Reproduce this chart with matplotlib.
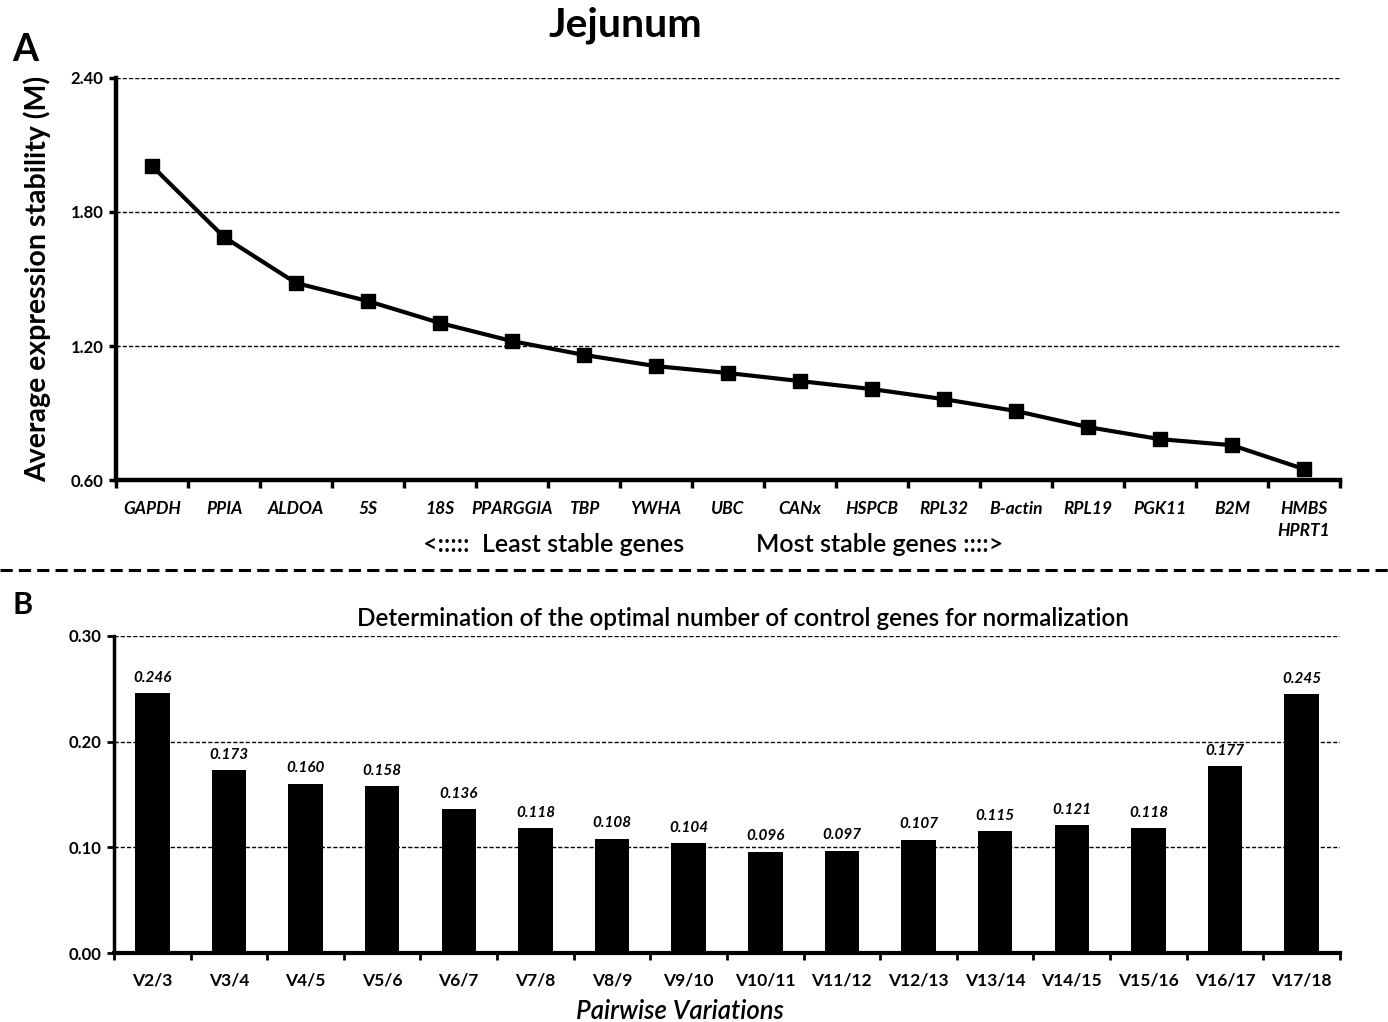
import numpy as np
import matplotlib.pyplot as plt
from matplotlib.lines import Line2D

plt.rcParams['font.family'] = ['Lato', 'DejaVu Sans']

genes = ['GAPDH', 'PPIA', 'ALDOA', '5S', '18S', 'PPARGGIA', 'TBP', 'YWHA', 'UBC',
         'CANx', 'HSPCB', 'RPL32', 'B-actin', 'RPL19', 'PGK11', 'B2M', 'HMBS\nHPRT1']
m_values = [2.006, 1.688, 1.482, 1.401, 1.303, 1.222, 1.160, 1.110, 1.079,
            1.043, 1.007, 0.962, 0.909, 0.837, 0.783, 0.756, 0.649]

pairs = ['V2/3', 'V3/4', 'V4/5', 'V5/6', 'V6/7', 'V7/8', 'V8/9', 'V9/10', 'V10/11',
         'V11/12', 'V12/13', 'V13/14', 'V14/15', 'V15/16', 'V16/17', 'V17/18']
v_values = [0.246, 0.173, 0.160, 0.158, 0.136, 0.118, 0.108, 0.104, 0.096,
            0.097, 0.107, 0.115, 0.121, 0.118, 0.177, 0.245]

fig = plt.figure(figsize=(13.88, 10.22), dpi=100)

# ---- panel A
ax1 = fig.add_axes([0.0836, 0.5303, 0.8818, 0.3934])
x = np.arange(len(genes))
ax1.plot(x, m_values, color='black', lw=3, marker='s', ms=10, zorder=3)
ax1.set_xlim(-0.5, len(genes) - 0.5)
ax1.set_ylim(0.6, 2.4)
ax1.set_yticks([0.6, 1.2, 1.8, 2.4])
ax1.set_yticklabels(['0.60', '1.20', '1.80', '2.40'], fontsize=12, fontweight='bold')
ax1.set_xticks(x)
ax1.set_xticklabels(genes, fontsize=12.5, fontweight='bold', style='italic', va='top',
                    linespacing=1.5)
ax1.set_xticks(np.arange(-0.5, len(genes)), minor=True)
ax1.tick_params(axis='x', which='major', length=0, pad=15)
ax1.tick_params(axis='x', which='minor', length=6, width=2.5, direction='out')
ax1.tick_params(axis='y', length=5, width=2.5, direction='out', pad=4)
for yv in [1.2, 1.8, 2.4]:
    ax1.axhline(yv, color='black', lw=1, ls=(0, (3, 1.5)), zorder=1)
for s in ['top', 'right']:
    ax1.spines[s].set_visible(False)
ax1.spines['left'].set_linewidth(3.2)
ax1.spines['bottom'].set_linewidth(3.2)
ax1.set_ylabel('Average expression stability (M)', fontsize=20.5, fontweight='bold', labelpad=14)

fig.text(0.4505, 0.975, 'Jejunum', fontsize=29.5, fontweight='bold', ha='center', va='center')
fig.text(0.018, 0.951, 'A', fontsize=27, fontweight='bold', ha='center', va='center')
fig.text(0.399, 0.467, '<:::::  Least stable genes', fontsize=18, fontweight='semibold',
         ha='center', va='center')
fig.text(0.634, 0.467, 'Most stable genes ::::>', fontsize=18, fontweight='semibold',
         ha='center', va='center')

# dashed separator
fig.add_artist(Line2D([0, 1], [0.4423, 0.4423], transform=fig.transFigure, color='black',
                      lw=2.2, ls=(0, (4, 2))))

# ---- panel B
ax2 = fig.add_axes([0.0821, 0.0675, 0.8833, 0.3102])
xb = np.arange(len(pairs))
ax2.bar(xb, v_values, width=0.45, color='black', zorder=3)
for xi, v in zip(xb, v_values):
    ax2.text(xi, v + 0.008, f'{v:.3f}', ha='center', va='bottom', fontsize=11,
             fontweight='bold', style='italic')
ax2.set_xlim(-0.5, len(pairs) - 0.5)
ax2.set_ylim(0, 0.3)
ax2.set_yticks([0, 0.1, 0.2, 0.3])
ax2.set_yticklabels(['0.00', '0.10', '0.20', '0.30'], fontsize=12, fontweight='bold')
ax2.set_xticks(xb)
ax2.set_xticklabels(pairs, fontsize=12.5, fontweight='bold')
ax2.set_xticks(np.arange(-0.5, len(pairs)), minor=True)
ax2.tick_params(axis='x', which='major', length=0, pad=14)
ax2.tick_params(axis='x', which='minor', length=5, width=2, direction='out')
ax2.tick_params(axis='y', length=5, width=2, direction='out', pad=4)
for yv in [0.1, 0.2, 0.3]:
    ax2.axhline(yv, color='black', lw=1, ls=(0, (3, 1.5)), zorder=1)
for s in ['top', 'right']:
    ax2.spines[s].set_visible(False)
ax2.spines['left'].set_linewidth(2.5)
ax2.spines['bottom'].set_linewidth(3)
ax2.set_title('Determination of the optimal number of control genes for normalization',
              fontsize=17.5, fontweight='semibold', x=0.513, pad=7)
ax2.set_xlabel('Pairwise Variations', fontsize=18.5, fontweight='semibold', style='italic')
ax2.xaxis.set_label_coords(0.462, -0.145)
fig.text(0.016, 0.408, 'B', fontsize=22, fontweight='bold', ha='center', va='center')

fig.savefig('out.png', dpi=100)
